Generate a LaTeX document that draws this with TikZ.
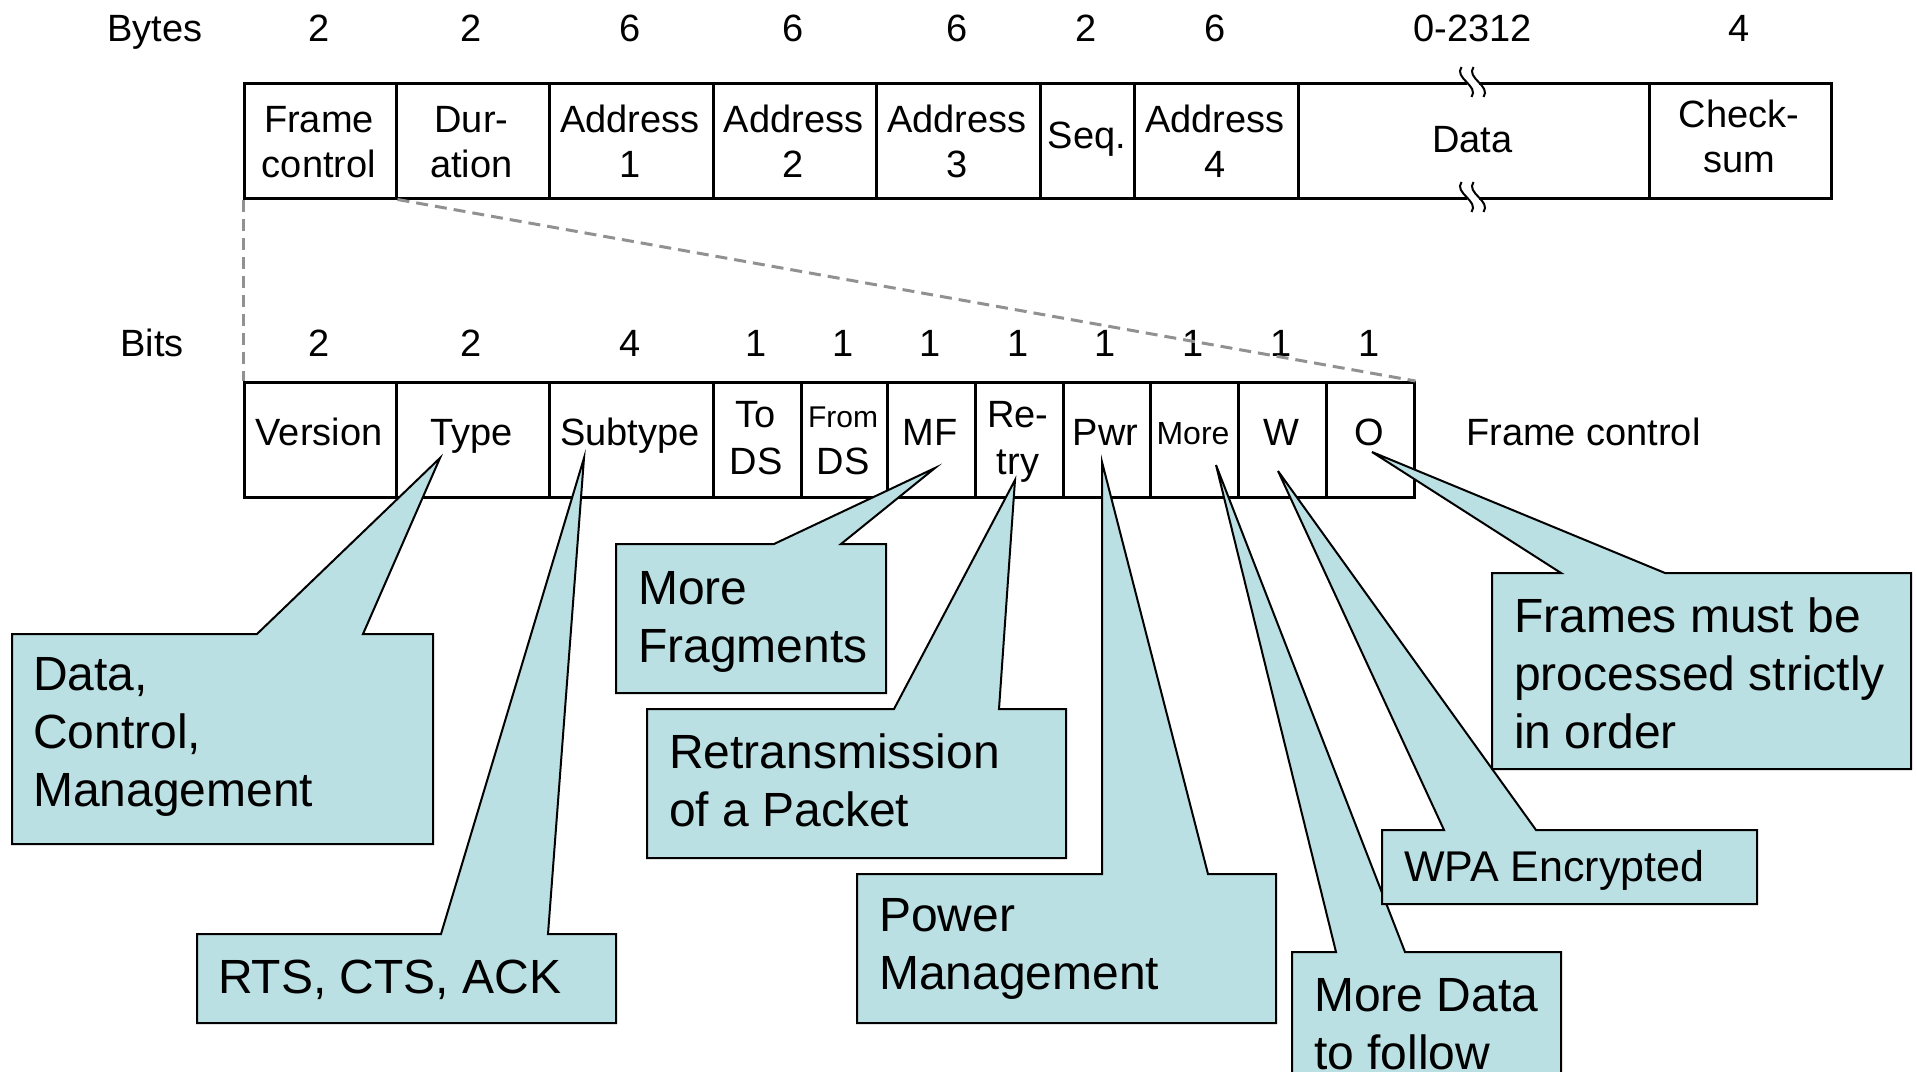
\documentclass[tikz,border=0pt]{standalone}
\usepackage{fontspec}
\setmainfont{Liberation Sans}
\definecolor{notefill}{RGB}{187,224,227}
\definecolor{dashgray}{RGB}{145,145,145}
\newcommand\cellfont{\fontsize{38pt}{45pt}\selectfont}
\newcommand\cellfontb{\fontsize{38pt}{47pt}\selectfont}
\newcommand\notefont{\fontsize{48pt}{58pt}\selectfont}
\newcommand\cellstack[1]{\begin{tabular}[t]{@{}c@{}}#1\end{tabular}}
\newcommand\notestack[1]{\begin{tabular}[t]{@{}l@{}}#1\end{tabular}}
% callout: left, top, right, bottom, pointer base x1, x2, tip coordinate
\newcommand\calloutbox[7]{\draw[note] (#1,#2) -- (#5,#2) -- (#7) -- (#6,#2) -- (#3,#2) -- (#3,#4) -- (#1,#4) -- cycle;}
\begin{document}
\begin{tikzpicture}[x=1pt,y=-1pt,
  cell/.style={draw, line width=2.5pt, inner sep=0pt, anchor=north west, minimum height=115pt},
  txt/.style={inner sep=0pt, anchor=base, font=\cellfont},
  txtb/.style={inner sep=0pt, anchor=base, font=\cellfontb},
  notetxt/.style={inner sep=0pt, anchor=base west, font=\notefont},
  note/.style={draw, line width=2pt, fill=notefill, line join=miter},
  dashline/.style={dashgray, line width=3pt, dash pattern=on 12pt off 7pt},
  brk/.pic={
    \fill[white] (-6,-3) rectangle (6,3);
    \draw[line width=2pt] (-11,-15) .. controls (-19,-4) and (7,4) .. (-1,15);
    \draw[line width=2pt] (1,-15) .. controls (-7,-4) and (19,4) .. (11,15);
  }]
\useasboundingbox (0,0) rectangle (1917,1071);

% ---- byte sizes ----
\node[txt] (bytes) at (155,41) {Bytes};
\node[txt] (b1) at (319,41) {2};
\node[txt] (b2) at (471.5,41) {2};
\node[txt] (b3) at (630,41) {6};
\node[txt] (b4) at (793.5,41) {6};
\node[txt] (b5) at (957,41) {6};
\node[txt] (b6) at (1086,41) {2};
\node[txt] (b7) at (1215,41) {6};
\node[txt] (b8) at (1472.5,41) {0-2312};
\node[txt] (b9) at (1739,41) {4};

% ---- frame layout ----
\node[cell, minimum width=152pt] (fc) at (243,82) {};
\node[cell, minimum width=153pt] (dur) at (395,82) {};
\node[cell, minimum width=164pt] (ad1) at (548,82) {};
\node[cell, minimum width=163pt] (ad2) at (712,82) {};
\node[cell, minimum width=164pt] (ad3) at (875,82) {};
\node[cell, minimum width=94pt] (seq) at (1039,82) {};
\node[cell, minimum width=164pt] (ad4) at (1133,82) {};
\node[cell, minimum width=351pt] (data) at (1297,82) {};
\node[cell, minimum width=182pt] (cks) at (1648,82) {};

\node[txt] (t-fc) at (319,132) {\cellstack{Frame\\control}};
\node[txt] (t-dur) at (471.5,132) {\cellstack{Dur-\\ation}};
\node[txt] (t-ad1) at (630,132) {\cellstack{Address\\1}};
\node[txt] (t-ad2) at (793.5,132) {\cellstack{Address\\2}};
\node[txt] (t-ad3) at (957,132) {\cellstack{Address\\3}};
\node[txt] (t-seq) at (1087,148) {Seq.};
\node[txt] (t-ad4) at (1215,132) {\cellstack{Address\\4}};
\node[txt] (t-data) at (1472.5,152) {Data};
\node[txt] (t-cks) at (1739,127) {\cellstack{Check-\\sum}};

% break marks on the data field
\pic at (1472.5,82) {brk};
\pic at (1472.5,197) {brk};

% ---- bit sizes ----
\node[txt] (bits) at (152,356) {Bits};
\node[txt] (n1) at (319,356) {2};
\node[txt] (n2) at (471.5,356) {2};
\node[txt] (n3) at (630,356) {4};
\node[txt] (n4) at (756,356) {1};
\node[txt] (n5) at (843,356) {1};
\node[txt] (n6) at (930,356) {1};
\node[txt] (n7) at (1018,356) {1};
\node[txt] (n8) at (1105.5,356) {1};
\node[txt] (n9) at (1193,356) {1};
\node[txt] (n10) at (1281,356) {1};
\node[txt] (n11) at (1369,356) {1};

% ---- frame control field ----
\node[cell, minimum width=152pt] (ver) at (243,381) {};
\node[cell, minimum width=153pt] (type) at (395,381) {};
\node[cell, minimum width=164pt] (sub) at (548,381) {};
\node[cell, minimum width=88pt] (tods) at (712,381) {};
\node[cell, minimum width=86pt] (fromds) at (800,381) {};
\node[cell, minimum width=88pt] (mf) at (886,381) {};
\node[cell, minimum width=88pt] (retry) at (974,381) {};
\node[cell, minimum width=87pt] (pwr) at (1062,381) {};
\node[cell, minimum width=88pt] (more) at (1149,381) {};
\node[cell, minimum width=88pt] (w) at (1237,381) {};
\node[cell, minimum width=88pt] (o) at (1325,381) {};

\node[txt] (t-ver) at (319,445) {Version};
\node[txt] (t-type) at (471.5,445) {Type};
\node[txt] (t-sub) at (630,445) {Subtype};
\node[txtb] (t-tods) at (756,427) {\cellstack{To\\DS}};
\node[txtb] (t-fromds) at (843,427) {\cellstack{{\fontsize{30pt}{36pt}\selectfont From}\\DS}};
\node[txt] (t-mf) at (930,445) {MF};
\node[txtb] (t-retry) at (1018,427) {\cellstack{Re-\\try}};
\node[txt] (t-pwr) at (1105.5,445) {Pwr};
\node[txt, font=\fontsize{32pt}{38pt}\selectfont] (t-more) at (1193,444) {More};
\node[txt] (t-w) at (1281,445) {W};
\node[txt] (t-o) at (1369,445) {O};
\node[inner sep=0pt, anchor=base west, font=\cellfont] (fclabel) at (1466,445) {Frame control};

% expansion lines from the frame control field
\draw[dashline] (fc.south west) -- (ver.north west);
\draw[dashline] (fc.south east) -- (o.north east);

% ---- callouts ----
\coordinate (tip-type) at (440,458);
\coordinate (tip-sub) at (584,458);
\coordinate (tip-mf) at (935,468);
\coordinate (tip-retry) at (1015,480);
\coordinate (tip-pwr) at (1102,462);
\coordinate (tip-more) at (1216,465);
\coordinate (tip-w) at (1278,471);
\coordinate (tip-o) at (1372,452);

\calloutbox{12}{634}{433}{844}{257}{363}{tip-type}
\node[notetxt] (c-type) at (33,690) {\notestack{Data,\\Control,\\Management}};

\calloutbox{197}{934}{616}{1023}{441}{548}{tip-sub}
\node[notetxt] (c-sub) at (218,993) {RTS, CTS, ACK};

\calloutbox{616}{544}{886}{693}{774}{841}{tip-mf}
\node[notetxt] (c-mf) at (638,604) {\notestack{More\\Fragments}};

\calloutbox{647}{709}{1066}{858}{894}{999}{tip-retry}
\node[notetxt] (c-retry) at (669,768) {\notestack{Retransmission\\of a Packet}};

\calloutbox{857}{874}{1276}{1023}{1102}{1208}{tip-pwr}
\node[notetxt] (c-pwr) at (879,931) {\notestack{Power\\Management}};

\calloutbox{1292}{952}{1561}{1095}{1336}{1405}{tip-more}
\node[notetxt] (c-more) at (1314,1011) {\notestack{More Data\\to follow}};

\calloutbox{1382}{830}{1757}{904}{1444}{1536}{tip-w}
\node[notetxt, font=\fontsize{43pt}{52pt}\selectfont] (c-w) at (1404,881) {WPA Encrypted};

\calloutbox{1492}{573}{1911}{769}{1561}{1665}{tip-o}
\node[notetxt] (c-o) at (1514,632) {\notestack{Frames must be\\processed strictly\\in order}};
\end{tikzpicture}
\end{document}
